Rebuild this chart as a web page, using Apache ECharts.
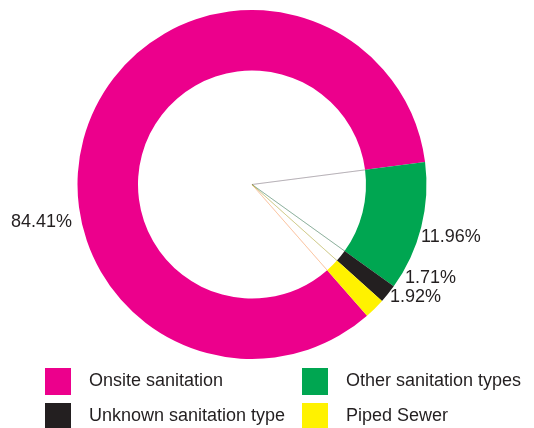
<!DOCTYPE html>
<html>
<head>
<meta charset="utf-8">
<script src="https://cdn.jsdelivr.net/npm/echarts@6/dist/echarts.min.js"></script>
<style>
  html, body { margin: 0; padding: 0; background: #ffffff; }
  #chart { width: 534px; height: 428px; }
</style>
</head>
<body>
<div id="chart"></div>
<script>
// Sanitation type shares (%)
const categories = ['Onsite sanitation', 'Other sanitation types', 'Unknown sanitation type', 'Piped Sewer'];
const shares = [84.41, 11.96, 1.71, 1.92];
const sliceColors = ['#EC008C', '#00A651', '#231F20', '#FFF200'];
const labelTexts = ['84.41%', '11.96%', '1.71%', '1.92%'];

const legendLeft = ['Onsite sanitation', 'Unknown sanitation type'];
const legendRight = ['Other sanitation types', 'Piped Sewer'];

const textColor = '#231F20';
const fontFamily = '"Liberation Sans", Arial, Helvetica, sans-serif';

// label anchor points (left edge, vertical middle)
const labelSpots = [
  [11, 222],
  [421, 237],
  [405, 278],
  [390, 297]
];

const colorOf = (name) => sliceColors[categories.indexOf(name)];

const pieData = categories.map((name, i) => ({
  name: name,
  value: shares[i],
  itemStyle: { color: sliceColors[i] }
}));

const center = [252, 184.5];
const startAngle = -48.75;

const chart = echarts.init(document.getElementById('chart'), null, { renderer: 'canvas' });

const legendCommon = {
  type: 'plain',
  orient: 'vertical',
  top: 368,
  height: 120,
  padding: 0,
  itemWidth: 26,
  itemHeight: 27,
  itemGap: 8,
  icon: 'rect',
  selectedMode: false,
  textStyle: {
    fontFamily: fontFamily,
    fontSize: 18,
    color: textColor,
    padding: [0, 0, 0, 13]
  }
};

const legendItems = (names) => names.map((n) => ({
  name: n,
  itemStyle: { color: colorOf(n), borderWidth: 0, opacity: 1 }
}));

chart.setOption({
  animation: false,
  backgroundColor: '#ffffff',
  legend: [
    Object.assign({}, legendCommon, { left: 45, data: legendItems(legendLeft) }),
    Object.assign({}, legendCommon, { left: 302, data: legendItems(legendRight) })
  ],
  series: [
    {
      type: 'pie',
      z: 3,
      center: center,
      radius: [114, 174.5],
      startAngle: startAngle,
      clockwise: true,
      avoidLabelOverlap: false,
      itemStyle: { borderWidth: 0 },
      label: {
        show: true,
        position: 'outside',
        fontFamily: fontFamily,
        fontSize: 18,
        color: textColor,
        formatter: (p) => labelTexts[p.dataIndex]
      },
      labelLine: { show: false },
      labelLayout: (params) => ({
        x: labelSpots[params.dataIndex][0],
        y: labelSpots[params.dataIndex][1],
        align: 'left',
        verticalAlign: 'middle'
      }),
      emphasis: { disabled: true },
      data: pieData
    },
    {
      // faint spokes from the centre to each slice boundary
      type: 'pie',
      z: 1,
      silent: true,
      center: center,
      radius: [0, 116],
      startAngle: startAngle,
      clockwise: true,
      label: { show: false },
      labelLine: { show: false },
      data: categories.map((name, i) => ({
        name: name,
        value: shares[i],
        itemStyle: {
          color: 'rgba(255,255,255,0)',
          borderColor: sliceColors[i],
          borderWidth: 0.5,
          opacity: 0.55
        }
      }))
    }
  ]
});
</script>
</body>
</html>
